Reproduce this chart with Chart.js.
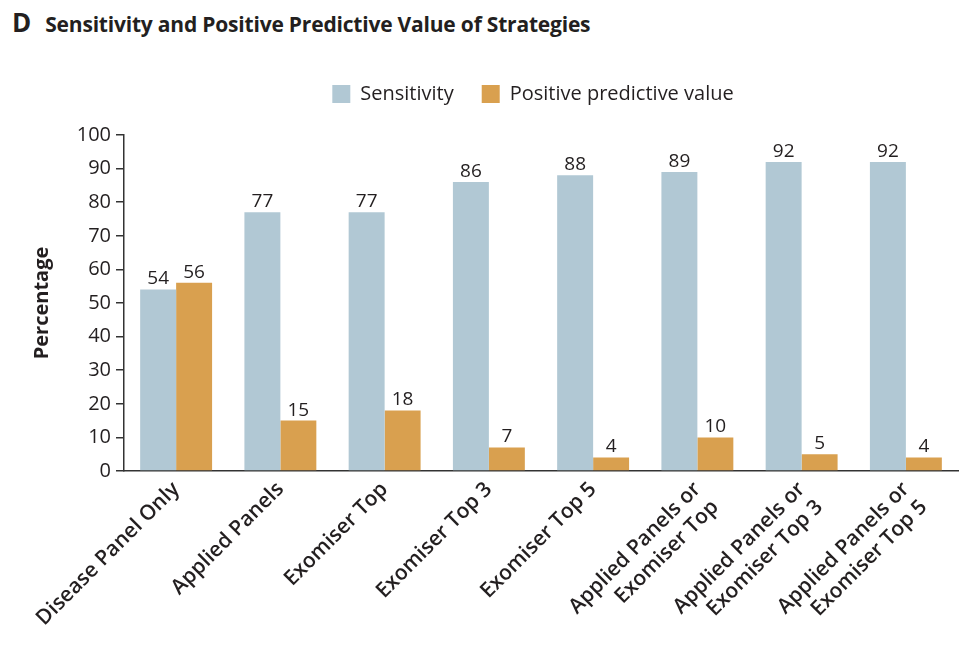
<!DOCTYPE html>
<html>
<head>
<meta charset="utf-8">
<script src="https://cdn.jsdelivr.net/npm/chart.js@4"></script>
<style>
  html, body { margin: 0; padding: 0; background: #fff; }
  #wrap { position: relative; width: 978px; height: 658px; }
  #title { position: absolute; left: 12px; top: 4px; font-family: "Open Sans", sans-serif; font-weight: 700; color: #231F20; white-space: nowrap; }
  #title .letter { font-size: 26px; margin-right: 14px; }
  #title .text { font-size: 21px; letter-spacing: -0.2px; }
  canvas { position: absolute; left: 0; top: 0; }
</style>
</head>
<body>
<div id="wrap">
  <div id="title"><span class="letter">D</span><span class="text">Sensitivity and Positive Predictive Value of Strategies</span></div>
  <canvas id="c" width="978" height="658"></canvas>
</div>
<script>
const categories = [
  "Disease Panel Only",
  "Applied Panels",
  "Exomiser Top",
  "Exomiser Top 3",
  "Exomiser Top 5",
  ["Applied Panels or", "Exomiser Top"],
  ["Applied Panels or", "Exomiser Top 3"],
  ["Applied Panels or", "Exomiser Top 5"]
];
const sensitivity = [54, 77, 77, 86, 88, 89, 92, 92];
const positivePredictiveValue = [56, 15, 18, 7, 4, 10, 5, 4];
const yTicks = [0, 10, 20, 30, 40, 50, 60, 70, 80, 90, 100];

const FONT = '"Open Sans", sans-serif';
const INK = '#231F20';

const valueLabels = {
  id: 'valueLabels',
  afterDatasetsDraw(chart) {
    const ctx = chart.ctx;
    ctx.save();
    ctx.font = '19px ' + FONT;
    ctx.fillStyle = INK;
    ctx.textAlign = 'center';
    ctx.textBaseline = 'bottom';
    chart.data.datasets.forEach((ds, i) => {
      const meta = chart.getDatasetMeta(i);
      meta.data.forEach((bar, j) => {
        ctx.fillText(String(ds.data[j]), bar.x, bar.y - 1);
      });
    });
    ctx.restore();
  }
};

// centre the legend over the plot area and place it like the reference
const legendPlacer = {
  id: 'legendPlacer',
  afterLayout(chart) {
    const lg = chart.legend;
    if (!lg) return;
    const h = lg.height;
    lg.left = chart.chartArea.left - 16;
    lg.right = chart.chartArea.right;
    lg.top = 56;
    lg.bottom = 56 + h;
  }
};

new Chart(document.getElementById('c'), {
  type: 'bar',
  data: {
    labels: categories,
    datasets: [
      { label: 'Sensitivity', data: sensitivity, backgroundColor: '#B1C8D4', borderWidth: 0 },
      { label: 'Positive predictive value', data: positivePredictiveValue, backgroundColor: '#D9A04F', borderWidth: 0 }
    ]
  },
  options: {
    responsive: false,
    animation: false,
    devicePixelRatio: 1,
    layout: { padding: { top: 77, right: 20, left: 30, bottom: 0 } },
    datasets: { bar: { categoryPercentage: 0.69, barPercentage: 1.0 } },
    plugins: {
      legend: {
        position: 'top',
        align: 'center',
        labels: {
          boxWidth: 18, boxHeight: 18, padding: 28,
          color: INK,
          font: { family: FONT, size: 20 }
        }
      },
      tooltip: { enabled: false }
    },
    scales: {
      x: {
        grid: { display: false, drawTicks: false },
        border: { display: true, color: '#333', width: 1.5 },
        ticks: {
          color: INK,
          font: { family: FONT, size: 21, weight: '600' },
          maxRotation: 45, minRotation: 45,
          autoSkip: false,
          padding: 6
        },
        afterFit(scale) { scale.height = 187; }
      },
      y: {
        min: 0, max: 100,
        afterBuildTicks(scale) { scale.ticks = yTicks.map(v => ({ value: v })); },
        grid: { drawOnChartArea: false, drawTicks: true, tickLength: 8, color: '#333', lineWidth: 1.5 },
        border: { display: true, color: '#333', width: 1.5 },
        ticks: { color: INK, font: { family: FONT, size: 20 }, padding: 5 },
        title: {
          display: true, text: 'Percentage', color: INK,
          font: { family: FONT, size: 20, weight: '700' }, padding: { top: 0, bottom: 8 }
        },
        afterFit(scale) { scale.width = 94; }
      }
    }
  },
  plugins: [legendPlacer, valueLabels]
});
</script>
</body>
</html>
